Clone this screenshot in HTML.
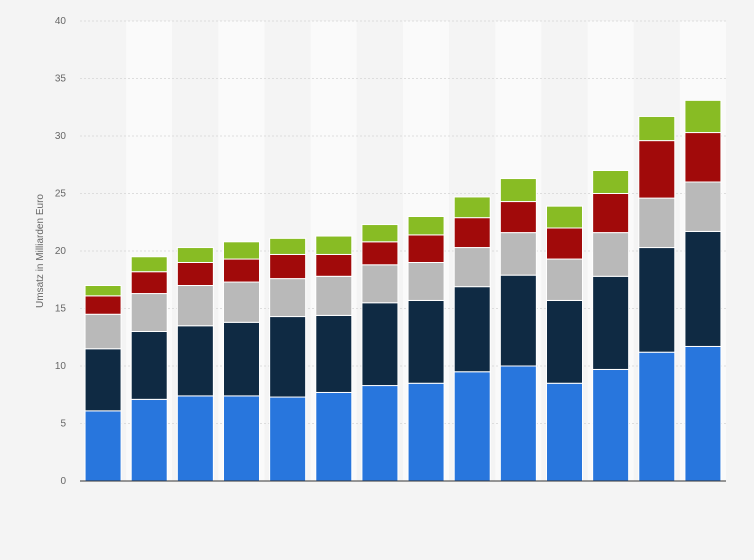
<!DOCTYPE html>
<html><head><meta charset="utf-8"><style>
body{margin:0;background:#f4f4f4;font-family:"Liberation Sans",sans-serif;}
svg{display:block}
</style></head><body>
<svg id="chart" width="754" height="560" xmlns="http://www.w3.org/2000/svg">
<rect width="754" height="560" fill="#f4f4f4"/>
<g id="bands"></g>
<g id="grid"></g>
<g id="bars"></g>
<text x="0" y="0" transform="translate(43,251) rotate(-90)" text-anchor="middle" font-size="10" fill="#666">Umsatz in Milliarden Euro</text>
</svg>
<script>
const categories = ["1","2","3","4","5","6","7","8","9","10","11","12","13","14"];
const seriesBlue  = [6.1,7.1,7.4,7.4,7.3,7.7,8.3,8.5,9.5,10.0,8.5,9.7,11.2,11.7];
const seriesNavy  = [5.4,5.9,6.1,6.4,7.0,6.7,7.2,7.2,7.4,7.9,7.2,8.1,9.1,10.0];
const seriesGray  = [3.0,3.3,3.5,3.5,3.3,3.4,3.3,3.3,3.4,3.7,3.6,3.8,4.3,4.3];
const seriesRed   = [1.6,1.9,2.0,2.0,2.1,1.9,2.0,2.4,2.6,2.7,2.7,3.4,5.0,4.3];
const seriesGreen = [0.9,1.3,1.3,1.5,1.4,1.6,1.5,1.6,1.8,2.0,1.9,2.0,2.1,2.8];
const yTicks = [0,5,10,15,20,25,30,35,40];
const colors = ["#2876dd","#0f2a43","#b9b9b9","#a10a0a","#88bc24"];
const names = ["blue","navy","gray","red","green"];
const series = [seriesBlue,seriesNavy,seriesGray,seriesRed,seriesGreen];

const NS="http://www.w3.org/2000/svg";
const x0=80,x1=726,yBase=481,yTop=21,yMax=40;
const y=v=>yBase-(v/yMax)*(yBase-yTop);
const step=(x1-x0)/categories.length;
const bw=36;
const xc=i=>x0+step*i+step/2;
function mk(t,a,p){const e=document.createElementNS(NS,t);for(const k in a)e.setAttribute(k,a[k]);p.appendChild(e);return e;}
const bands=document.getElementById('bands'),grid=document.getElementById('grid'),bars=document.getElementById('bars');
categories.forEach((c,i)=>{
  const r=mk('rect',{x:x0+step*i,y:yTop,width:step,height:yBase-yTop,fill:i%2?'#fafafa':'#f4f4f4'},bands);
  
  
});
yTicks.forEach(t=>{
  const l=mk('line',{x1:x0,x2:x1,y1:y(t),y2:y(t),stroke:t===0?'#333':'#ddd','stroke-dasharray':t===0?'':'2,2','stroke-width':1},grid);
  
  
  const tx=mk('text',{x:66,y:y(t)+3,'text-anchor':'end','font-size':10,fill:'#666'},grid);
  tx.textContent=t;
  
  
});
categories.forEach((c,i)=>{
  let acc=0;
  series.forEach((s,k)=>{
    const v=s[i];
    const r=mk('rect',{x:xc(i)-bw/2,y:y(acc+v),width:bw,height:y(acc)-y(acc+v),fill:colors[k],stroke:'#fff','stroke-width':1},bars);
    
    
    acc+=v;
  });
});
const base=mk('line',{x1:x0,x2:x1,y1:yBase,y2:yBase,stroke:'#333','stroke-width':1},bars);


</script>
</body></html>
